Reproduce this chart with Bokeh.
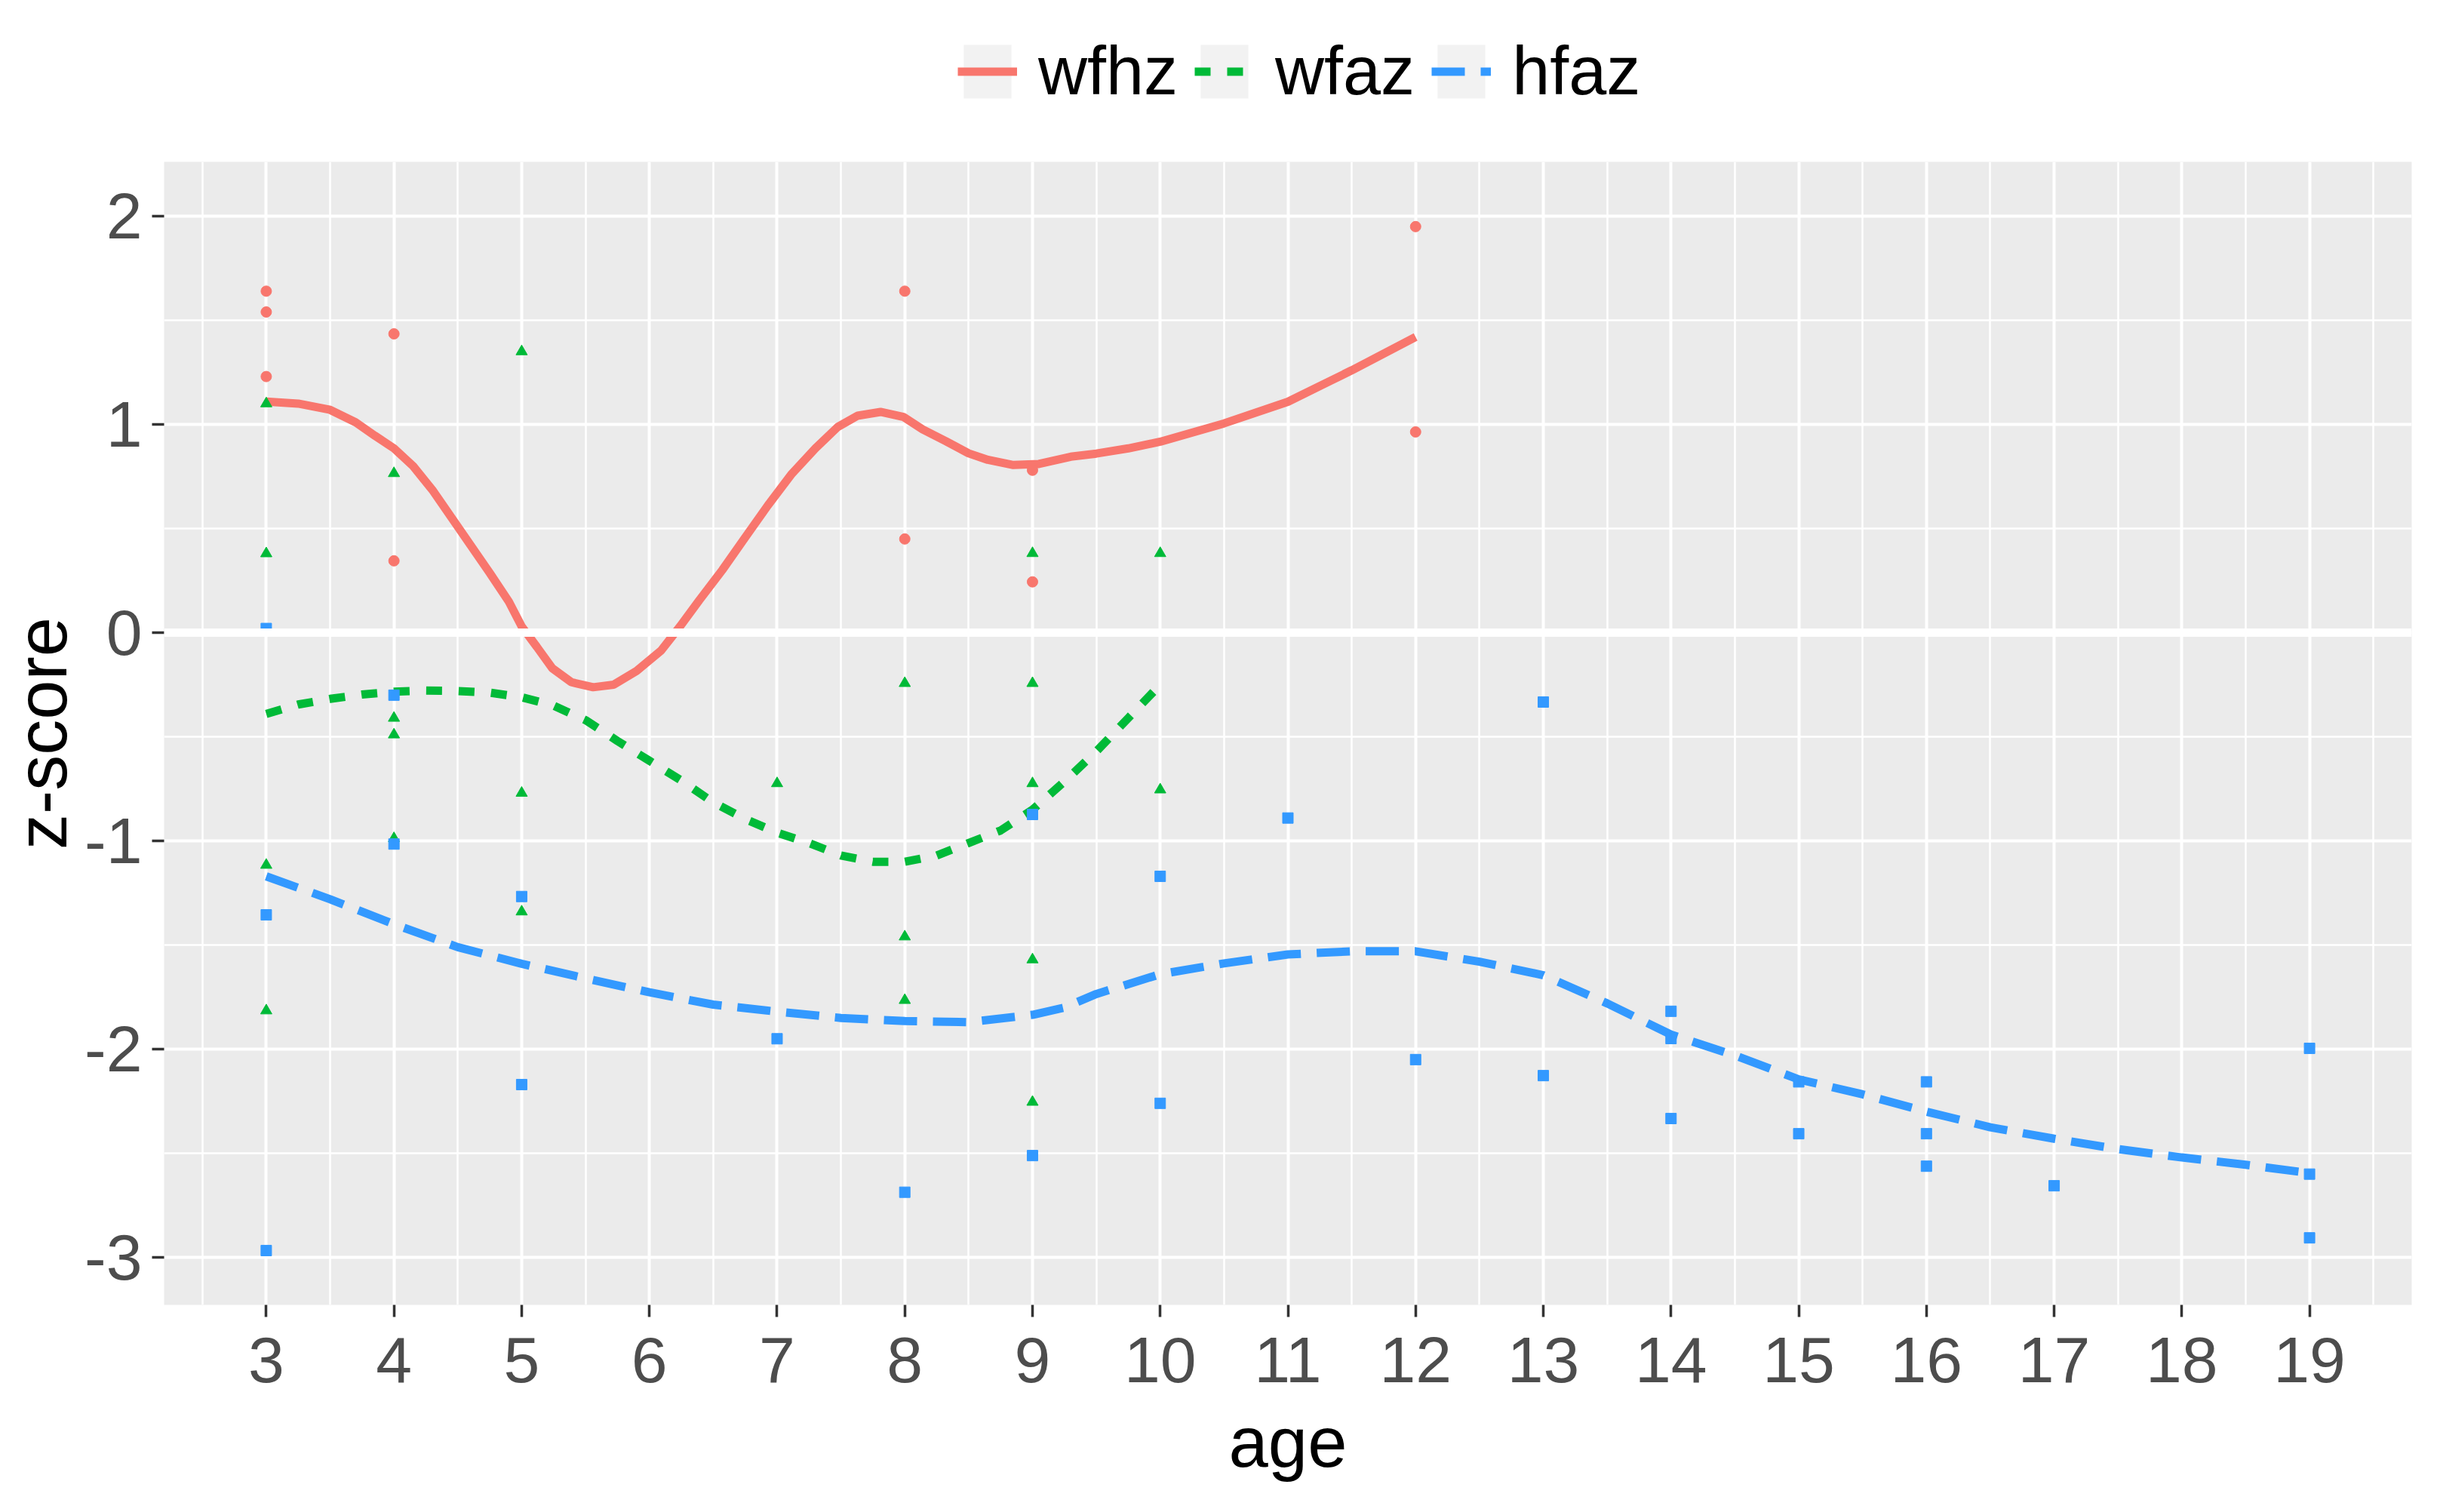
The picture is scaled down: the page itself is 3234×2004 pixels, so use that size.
from bokeh.plotting import figure
from bokeh.layouts import column
from bokeh.models import Range1d, FixedTicker, Span, Legend, LegendItem
from bokeh.embed import file_html
from bokeh.resources import INLINE

# ---------------- data ----------------
wfhz_age = [3, 3, 3, 4, 4, 8, 8, 9, 9, 12, 12]
wfhz_val = [1.64, 1.54, 1.23, 1.435, 0.345, 1.64, 0.45, 0.78, 0.244, 1.95, 0.964]

wfaz_age = [3, 3, 3, 3, 4, 4, 4, 4, 5, 5, 5, 7, 8, 8, 8, 9, 9, 9, 9, 9, 10, 10]
wfaz_val = [1.10, 0.38, -1.116, -1.815, 0.765, -0.41, -0.49, -0.988, 1.35, -0.77, -1.34,
            -0.724, -0.243, -1.46, -1.765, 0.381, -0.243, -0.724, -1.57, -2.254, 0.381, -0.754]

hfaz_age = [3, 3, 3, 4, 4, 5, 5, 7, 8, 9, 9, 10, 10, 11, 12, 13, 13, 14, 14, 14, 15, 15,
            16, 16, 16, 17, 19, 19, 19]
hfaz_val = [0.02, -1.355, -2.967, -0.30, -1.015, -1.267, -2.17, -1.95, -2.687, -0.873, -2.511,
            -1.17, -2.26, -0.89, -2.05, -0.333, -2.127, -1.818, -1.949, -2.333, -2.157, -2.406,
            -2.157, -2.406, -2.562, -2.656, -1.996, -2.60, -2.906]

# smoothed curves
wfhz_sx = [3.0, 3.25, 3.5, 3.7, 3.85, 4.0, 4.15, 4.3, 4.45, 4.6, 4.75, 4.9, 5.0, 5.12, 5.24,
           5.39, 5.56, 5.72, 5.9, 6.09, 6.24, 6.39, 6.57, 6.75, 6.93, 7.11, 7.3, 7.475, 7.63,
           7.81, 7.99, 8.14, 8.32, 8.5, 8.65, 8.85, 9.05, 9.3, 9.5, 9.75, 10.0, 10.5, 11.0,
           11.5, 12.0]
wfhz_sy = [1.11, 1.10, 1.07, 1.01, 0.946, 0.885, 0.80, 0.686, 0.553, 0.42, 0.287, 0.149, 0.03,
           -0.069, -0.171, -0.238, -0.262, -0.25, -0.184, -0.087, 0.03, 0.155, 0.30, 0.457,
           0.613, 0.759, 0.885, 0.988, 1.042, 1.06, 1.036, 0.976, 0.92, 0.861, 0.83, 0.805,
           0.81, 0.845, 0.86, 0.885, 0.917, 1.005, 1.109, 1.26, 1.42]

wfaz_sx = [3.0, 3.25, 3.5, 3.75, 4.0, 4.25, 4.5, 4.75, 5.0, 5.25, 5.5, 5.75, 6.0, 6.25, 6.5,
           6.75, 7.0, 7.25, 7.5, 7.75, 8.0, 8.25, 8.5, 8.75, 9.0, 9.25, 9.5, 9.75, 10.0]
wfaz_sy = [-0.39, -0.345, -0.318, -0.297, -0.283, -0.278, -0.28, -0.288, -0.31, -0.35, -0.42,
           -0.52, -0.615, -0.71, -0.815, -0.895, -0.96, -1.01, -1.07, -1.10, -1.10, -1.07,
           -1.01, -0.95, -0.85, -0.715, -0.57, -0.41, -0.25]

hfaz_sx = [3.0, 3.5, 4.0, 4.5, 5.0, 5.5, 6.0, 6.5, 7.0, 7.5, 8.0, 8.5, 9.0, 9.25, 9.5, 10.0,
           10.5, 11.0, 11.5, 12.0, 12.5, 13.0, 13.5, 14.0, 14.5, 15.0, 15.5, 16.0, 16.5,
           17.0, 17.5, 18.0, 18.5, 19.0]
hfaz_sy = [-1.17, -1.28, -1.40, -1.51, -1.59, -1.66, -1.727, -1.786, -1.82, -1.85, -1.865,
           -1.87, -1.835, -1.80, -1.735, -1.64, -1.588, -1.545, -1.53, -1.53, -1.58, -1.645,
           -1.78, -1.93, -2.03, -2.145, -2.217, -2.30, -2.375, -2.43, -2.48, -2.52, -2.555,
           -2.595]

series_names = ["wfhz", "wfaz", "hfaz"]
x_ticks = list(range(3, 20))
y_ticks = [-3, -2, -1, 0, 1, 2]
y_tick_labels = {-3: "-3", -2: "-2", -1: "-1", 0: "0", 1: "1", 2: "2"}

# ---------------- styles ----------------
RED, GREEN, BLUE = "#F8766D", "#00BA38", "#3399FF"
FONT = "Liberation Sans"
DASH = {"wfhz": "solid", "wfaz": "21 22", "hfaz": "44 21"}
COL = {"wfhz": RED, "wfaz": GREEN, "hfaz": BLUE}
CURVES = {"wfhz": (wfhz_sx, wfhz_sy), "wfaz": (wfaz_sx, wfaz_sy), "hfaz": (hfaz_sx, hfaz_sy)}

# ---------------- legend strip (its ranges keep its own glyphs off-screen) ----------------
leg = figure(width=3218, height=214, output_backend="svg", toolbar_location=None,
             x_axis_type=None, y_axis_type=None, x_range=Range1d(100, 101),
             y_range=Range1d(100, 101), min_border=0, outline_line_color=None)
leg.background_fill_color = "white"
leg.border_fill_color = "white"
bg = leg.quad(left=x_ticks[:1], right=x_ticks[1:2], bottom=y_ticks[:1], top=y_ticks[1:2],
              fill_color="#F2F2F2", line_color=None)
items = []
for name in series_names:
    sx, sy = CURVES[name]
    ln = leg.line(sx, sy, line_color=COL[name], line_width=11, line_dash=DASH[name])
    items.append(LegendItem(label=name, renderers=[bg, ln]))
legend = Legend(items=items, orientation="horizontal", location=(1052, 68),
                glyph_width=79, glyph_height=89, label_standoff=28, spacing=22,
                label_width=185, label_height=89,
                label_text_font=FONT, label_text_font_size="90px", label_text_color="black",
                padding=0, margin=0, border_line_color=None, background_fill_alpha=0)
leg.add_layout(legend, "center")

# ---------------- main plot ----------------
p = figure(width=3218, height=1770, output_backend="svg", toolbar_location=None,
           x_range=Range1d(2.2, 19.8), y_range=Range1d(-3.228, 2.261),
           min_border_left=211, min_border_right=22, min_border_top=0, min_border_bottom=255)
p.background_fill_color = "#EBEBEB"
p.border_fill_color = "white"
p.outline_line_color = None

for ax in (p.xaxis[0], p.yaxis[0]):
    ax.axis_line_color = None
    ax.major_tick_line_color = "#333333"
    ax.major_tick_line_width = 3.5
    ax.major_tick_out = 16
    ax.major_tick_in = 0
    ax.minor_tick_line_color = None
    ax.major_label_text_font = FONT
    ax.major_label_text_font_size = "86px"
    ax.major_label_text_color = "#4D4D4D"
    ax.axis_label_text_font = FONT
    ax.axis_label_text_font_size = "94px"
    ax.axis_label_text_font_style = "normal"
    ax.axis_label_text_color = "black"

p.xaxis.ticker = FixedTicker(ticks=x_ticks, minor_ticks=[t + 0.5 for t in range(2, 20)])
p.yaxis.ticker = FixedTicker(ticks=y_ticks, minor_ticks=[-2.5, -1.5, -0.5, 0.5, 1.5])
p.yaxis.major_label_overrides = y_tick_labels
p.xaxis.major_label_standoff = 27
p.yaxis.major_label_standoff = 13
p.xaxis.axis_label = "age"
p.yaxis.axis_label = "z-score"
p.xaxis.axis_label_standoff = 24
p.yaxis.axis_label_standoff = 1

for g in (p.xgrid[0], p.ygrid[0]):
    g.grid_line_color = "white"
    g.grid_line_width = 4
    g.minor_grid_line_color = "white"
    g.minor_grid_line_width = 2.5

for name in series_names:
    sx, sy = CURVES[name]
    p.line(sx, sy, line_color=COL[name], line_width=11, line_dash=DASH[name])

p.scatter(wfhz_age, wfhz_val, marker="circle", size=14, color=RED)
p.scatter(wfaz_age, wfaz_val, marker="triangle", size=15, color=GREEN)
p.scatter(hfaz_age, hfaz_val, marker="square", size=14, color=BLUE)

p.add_layout(Span(location=0, dimension="width", line_color="white", line_width=11))

layout = column(leg, p, spacing=0)
open("out.html", "w").write(file_html(layout, INLINE))
